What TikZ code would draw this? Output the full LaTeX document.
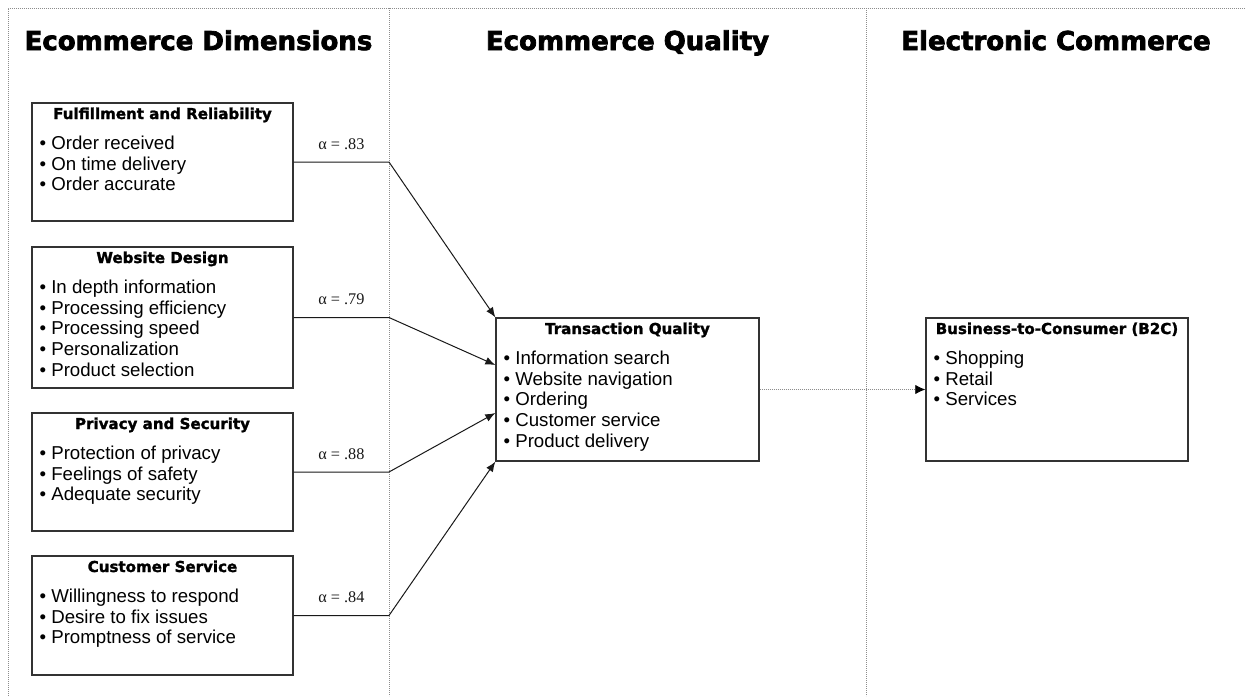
\documentclass[tikz,border=0pt]{standalone}
\usepackage{fontspec}
\setmainfont{Liberation Sans}
\newfontfamily\headfont{DejaVu Sans}[BoldFeatures={FakeBold=1.6}]
\newfontfamily\bigheadfont{DejaVu Sans}[BoldFeatures={FakeBold=2.8}]
\newfontfamily\alphafont{Liberation Serif}
\usetikzlibrary{arrows.meta,calc}

\begin{document}
\begin{tikzpicture}[x=0.75pt,y=-0.75pt,
	box/.style={draw=black!80,line width=1pt,minimum width=195.75pt,inner sep=0pt},
	head/.style={font=\bigheadfont\bfseries\fontsize{19.5}{23}\selectfont,anchor=base,inner sep=0pt},
	boxtitle/.style={font=\headfont\bfseries\fontsize{11.3}{13}\selectfont,anchor=base,inner sep=0pt},
	items/.style={font=\fontsize{14}{15.5}\selectfont,align=left,inner sep=0pt,anchor=north west},
	sep/.style={black!45,line width=0.6pt,dash pattern=on 0.6pt off 0.9pt},
	link/.style={black!90,line width=0.75pt,-{Latex[length=7.5pt,width=6pt]}},
	alab/.style={font=\alphafont\fontsize{12.2}{14}\selectfont,anchor=base,inner sep=0pt,yshift=9.5pt}]
\useasboundingbox (0,0) rectangle (1245,696);

% column rules
\draw[sep] (8,696) -- (8,8) -- (1245,8);
\draw[sep] (389,8) -- (389,696);
\draw[sep] (866,8) -- (866,696);
\coordinate (v1) at (389,8);

\node[head] (h1) at (198.5,50) {Ecommerce Dimensions};
\node[head] (h2) at (627.5,50) {Ecommerce Quality};
\node[head] (h3) at (1056,50) {Electronic Commerce};

% dimensions
\node[box,minimum height=88.5pt] (fr) at (162.5,162) {};
\node[boxtitle] (frt) at ([yshift=-12.5pt]fr.north) {Fulfillment and Reliability};
\node[items] (fri) at ([xshift=6pt,yshift=-25pt]fr.north west)
	{\textbullet\ Order received\\ \textbullet\ On time delivery\\ \textbullet\ Order accurate};

\node[box,minimum height=105.75pt] (wd) at (162.5,317.5) {};
\node[boxtitle] (wdt) at ([yshift=-12.5pt]wd.north) {Website Design};
\node[items] (wdi) at ([xshift=6pt,yshift=-25pt]wd.north west)
	{\textbullet\ In depth information\\ \textbullet\ Processing efficiency\\ \textbullet\ Processing speed\\
	 \textbullet\ Personalization\\ \textbullet\ Product selection};

\node[box,minimum height=88.5pt] (ps) at (162.5,472) {};
\node[boxtitle] (pst) at ([yshift=-12.5pt]ps.north) {Privacy and Security};
\node[items] (psi) at ([xshift=6pt,yshift=-25pt]ps.north west)
	{\textbullet\ Protection of privacy\\ \textbullet\ Feelings of safety\\ \textbullet\ Adequate security};

\node[box,minimum height=89.25pt] (cs) at (162.5,615.5) {};
\node[boxtitle] (cst) at ([yshift=-12.5pt]cs.north) {Customer Service};
\node[items] (csi) at ([xshift=6pt,yshift=-25pt]cs.north west)
	{\textbullet\ Willingness to respond\\ \textbullet\ Desire to fix issues\\ \textbullet\ Promptness of service};

% quality
\node[box,minimum width=197.25pt,minimum height=107.25pt] (tq) at (627.5,389.5) {};
\node[boxtitle] (tqt) at ([yshift=-12.5pt]tq.north) {Transaction Quality};
\node[items] (tqi) at ([xshift=6pt,yshift=-25pt]tq.north west)
	{\textbullet\ Information search\\ \textbullet\ Website navigation\\ \textbullet\ Ordering\\
	 \textbullet\ Customer service\\ \textbullet\ Product delivery};

% commerce
\node[box,minimum width=196.5pt,minimum height=107.25pt] (bc) at (1057,389.5) {};
\node[boxtitle] (bct) at ([yshift=-12.5pt]bc.north) {Business-to-Consumer (B2C)};
\node[items] (bci) at ([xshift=6pt,yshift=-25pt]bc.north west)
	{\textbullet\ Shopping\\ \textbullet\ Retail\\ \textbullet\ Services};

% links
\draw[link] (fr.east) -- node[alab] {α = .83} (fr.east -| v1) -- (tq.north west);
\draw[link] (wd.east) -- node[alab] {α = .79} (wd.east -| v1) -- ($(tq.west)+(0,-24.5)$);
\draw[link] (ps.east) -- node[alab] {α = .88} (ps.east -| v1) -- ($(tq.west)+(0,23.5)$);
\draw[link] (cs.east) -- node[alab] {α = .84} (cs.east -| v1) -- (tq.south west);
\draw[sep,-{Latex[black,length=7.5pt,width=7pt]}] (tq.east) -- (bc.west);
\end{tikzpicture}
\end{document}
